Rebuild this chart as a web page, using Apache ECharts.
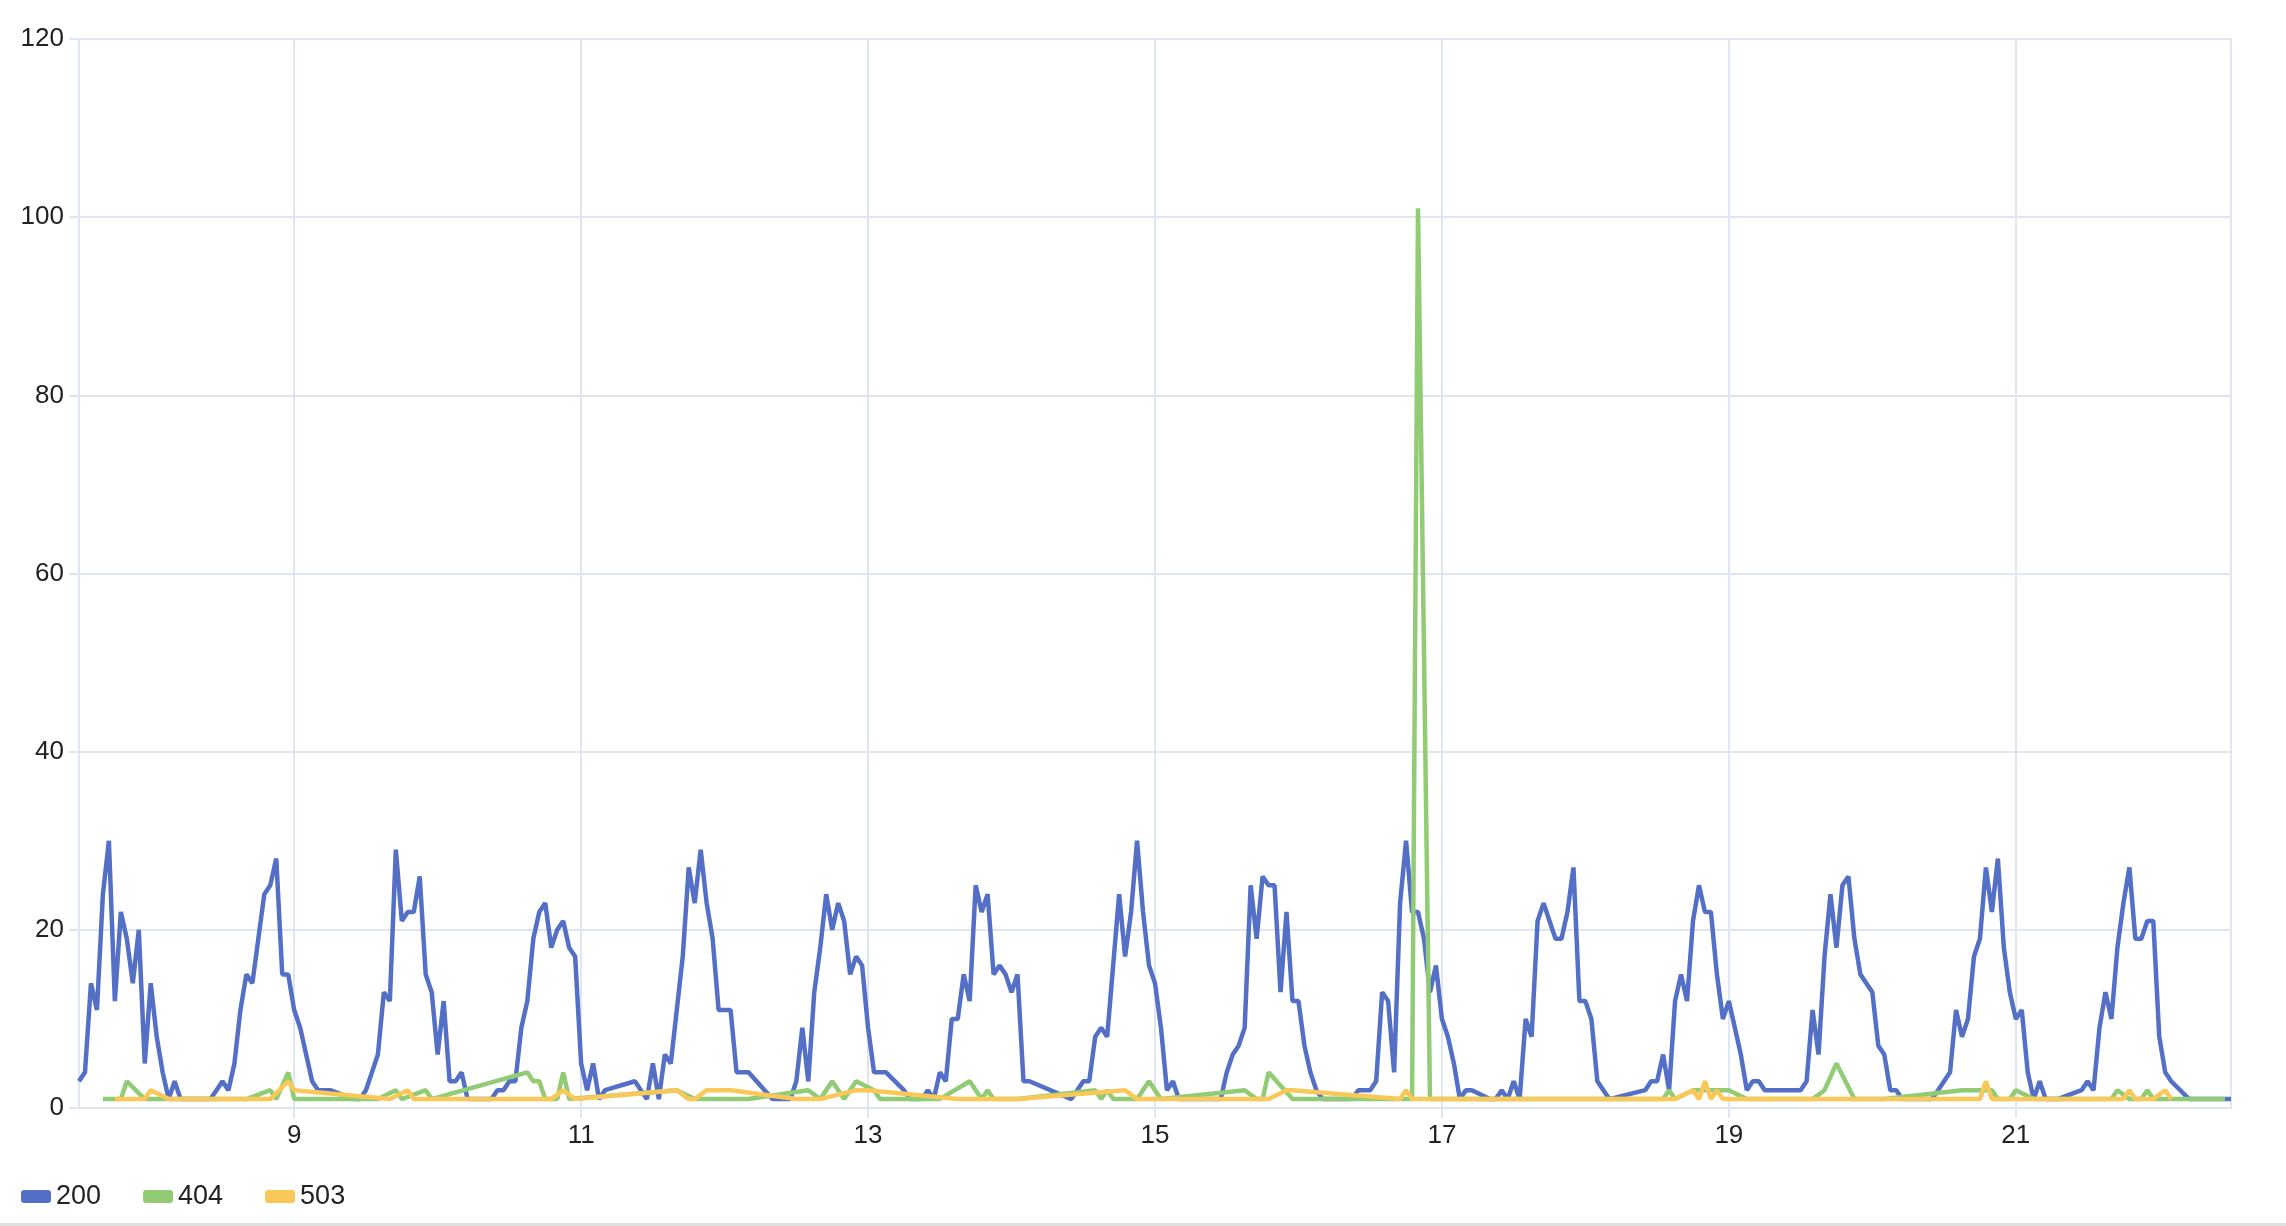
<!DOCTYPE html>
<html>
<head>
<meta charset="utf-8">
<title>HTTP status codes per hour</title>
<script src="https://cdn.jsdelivr.net/npm/echarts@6/dist/echarts.min.js"></script>
<style>
  html, body { margin: 0; padding: 0; background: #fff; }
  #main { width: 2286px; height: 1223px; border-bottom: 3px solid #dedfe3; }
</style>
</head>
<body>
<div id="main"></div>
<script>
// first point: day 7, 12:00, one value per hour after that
var startTime = new Date(2023, 4, 7, 12, 0, 0).getTime();
var HOUR = 3600 * 1000;
var hourCount = 360;

var seriesNames = ['200', '404', '503'];

// 200 responses, one per hour (null = no data, line is joined across)
var hits200 = [
  3, 4, 14, 11, 24, 30, 12, 22, 19, 14, 20, 5, 14, 8, 4, 1, 3, 1, 1, 1, 1, 1, 1, 2,
  3, 2, 5, 11, 15, 14, 19, 24, 25, 28, 15, 15, 11, 9, 6, 3, 2, 2, 2, null, null, null, 1, 1,
  2, 4, 6, 13, 12, 29, 21, 22, 22, 26, 15, 13, 6, 12, 3, 3, 4, 1, 1, 1, 1, 1, 2, 2,
  3, 3, 9, 12, 19, 22, 23, 18, 20, 21, 18, 17, 5, 2, 5, 1, 2, null, null, null, null, 3, 2, 1,
  5, 1, 6, 5, 11, 17, 27, 23, 29, 23, 19, 11, 11, 11, 4, 4, 4, null, null, null, 1, 1, 1, 1,
  3, 9, 3, 13, 18, 24, 20, 23, 21, 15, 17, 16, 9, 4, 4, 4, null, null, 2, 1, 1, 1, 2, 1,
  4, 3, 10, 10, 15, 12, 25, 22, 24, 15, 16, 15, 13, 15, 3, 3, null, null, null, null, null, null, 1, 2,
  3, 3, 8, 9, 8, 16, 24, 17, 22, 30, 22, 16, 14, 9, 2, 3, 1, 1, 1, 1, 1, 1, 1, 1,
  4, 6, 7, 9, 25, 19, 26, 25, 25, 13, 22, 12, 12, 7, 4, 2, 1, 1, 1, 1, 1, 1, 2, 2,
  2, 3, 13, 12, 4, 23, 30, 22, 22, 19, 13, 16, 10, 8, 5, 1, 2, 2, null, null, 1, 1, 2, 1,
  3, 1, 10, 8, 21, 23, 21, 19, 19, 22, 27, 12, 12, 10, 3, null, 1, null, null, null, null, null, 2, 3,
  3, 6, 2, 12, 15, 12, 21, 25, 22, 22, 15, 10, 12, 9, 6, 2, 3, 3, 2, 2, 2, 2, 2, 2,
  2, 3, 11, 6, 17, 24, 18, 25, 26, 19, 15, 14, 13, 7, 6, 2, 2, 1, 1, 1, 1, 1, 1, 2,
  3, 4, 11, 8, 10, 17, 19, 27, 22, 28, 18, 13, 10, 11, 4, 1, 3, 1, 1, 1, null, null, null, 2,
  3, 2, 9, 13, 10, 18, 23, 27, 19, 19, 21, 21, 8, 4, 3, null, null, 1, 1, 1, 1, 1, 1, 1,
  1
];

// 404 and 503 only have points in some hours: [hour, count]
var hits404 = [
  [4, 1], [7, 1], [8, 3], [11, 1], [28, 1], [32, 2], [33, 1], [35, 4], [36, 1],
  [50, 1], [53, 2], [54, 1], [58, 2], [59, 1], [75, 4], [76, 3], [77, 3], [78, 1],
  [80, 1], [81, 4], [82, 1], [100, 2], [103, 1], [112, 1], [122, 2], [124, 1], [126, 3],
  [128, 1], [130, 3], [133, 2], [134, 1], [144, 1], [149, 3], [151, 1], [152, 2], [153, 1],
  [157, 1], [170, 2], [171, 1], [172, 2], [173, 1], [177, 1], [179, 3], [180, 2], [181, 1],
  [195, 2], [197, 1], [198, 1], [199, 4], [203, 1], [223, 1], [224, 101], [226, 1],
  [265, 1], [266, 2], [267, 1], [270, 2], [276, 2], [279, 1], [290, 1], [292, 2], [294, 5],
  [297, 1], [302, 1], [315, 2], [320, 2], [321, 1], [323, 1], [324, 2], [327, 1],
  [340, 1], [341, 2], [343, 1], [345, 1], [346, 2], [347, 1], [359, 1]
];

var hits503 = [
  [6, 1], [11, 1], [12, 2], [15, 1], [32, 1], [35, 3], [36, 2], [52, 1], [55, 2], [56, 1],
  [79, 1], [81, 2], [83, 1], [100, 2], [102, 1], [103, 1], [105, 2], [109, 2], [120, 1],
  [124, 1], [130, 2], [132, 2], [147, 1], [157, 1], [175, 2], [177, 1], [199, 1], [202, 2],
  [203, 2], [221, 1], [222, 2], [223, 1], [267, 1], [270, 2], [271, 1], [272, 3], [273, 1],
  [274, 2], [275, 1], [318, 1], [319, 3], [320, 1], [342, 1], [343, 2], [344, 1], [347, 1],
  [349, 2], [350, 1]
];

var yTicks = [0, 20, 40, 60, 80, 100, 120];

(function () {
  var myChart = echarts.init(document.getElementById('main'));

  var gridColor = '#e0e6f1';
  var textColor = '#222';
  var font = 'Helvetica, Arial, sans-serif';

  // hour offset -> timestamp
  function toTime(h) {
    return startTime + h * HOUR;
  }

  var data200 = hits200.map(function (v, i) { return [toTime(i), v]; });
  var data404 = hits404.map(function (p) { return [toTime(p[0]), p[1]]; });
  var data503 = hits503.map(function (p) { return [toTime(p[0]), p[1]]; });

  function lineSeries(name, data) {
    return {
      name: name,
      type: 'line',
      data: data,
      showSymbol: false,
      connectNulls: true,
      lineStyle: { width: 4.5 },
      emphasis: { disabled: true }
    };
  }

  var option = {
    animation: false,
    color: ['#5470c6', '#91cc75', '#fac858'],
    legend: {
      data: seriesNames,
      left: 16,
      top: 1178,
      icon: 'roundRect',
      itemWidth: 30,
      itemHeight: 13,
      itemGap: 42,
      textStyle: { fontSize: 27, color: textColor, fontFamily: font }
    },
    grid: {
      left: 79,
      right: 55,
      top: 39,
      bottom: 115,
      show: true,
      borderColor: gridColor,
      borderWidth: 2
    },
    xAxis: {
      type: 'time',
      min: toTime(0),
      max: toTime(hourCount),
      axisLine: { lineStyle: { color: gridColor, width: 2 } },
      axisTick: { show: true, length: 10, lineStyle: { color: gridColor, width: 2 } },
      axisLabel: { fontSize: 26, color: textColor, margin: 15, fontFamily: font },
      splitLine: { show: true, lineStyle: { color: gridColor, width: 2 } }
    },
    yAxis: {
      type: 'value',
      min: yTicks[0],
      max: yTicks[yTicks.length - 1],
      interval: yTicks[1] - yTicks[0],
      axisLine: { show: true, lineStyle: { color: gridColor, width: 2 } },
      axisTick: { show: true, length: 10, lineStyle: { color: gridColor, width: 2 } },
      axisLabel: { fontSize: 26, color: textColor, margin: 15, fontFamily: font },
      splitLine: { lineStyle: { color: gridColor, width: 2 } }
    },
    series: [
      lineSeries(seriesNames[0], data200),
      lineSeries(seriesNames[1], data404),
      lineSeries(seriesNames[2], data503)
    ]
  };

  myChart.setOption(option);

  window.addEventListener('resize', function () {
    myChart.resize();
  });
})();
</script>
</body>
</html>
